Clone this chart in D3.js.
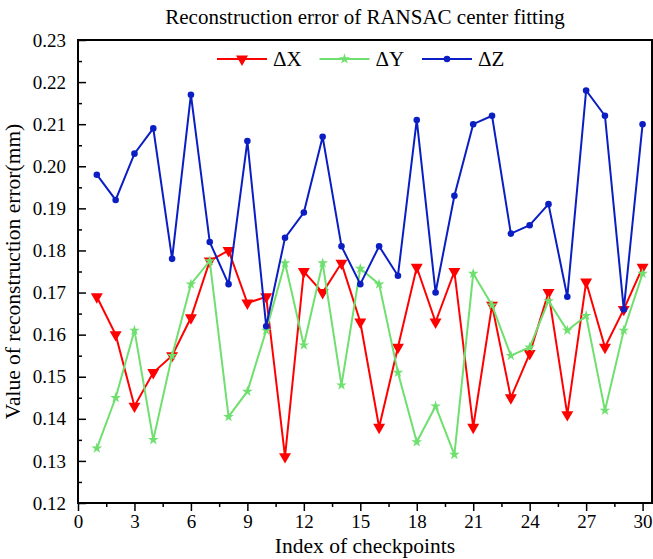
<!DOCTYPE html>
<html>
<head>
<meta charset="utf-8">
<script src="https://cdn.jsdelivr.net/npm/d3@7"></script>
<style>
  html, body { margin: 0; padding: 0; background: #fff; }
  svg { display: block; }
  svg text { font-family: "Liberation Serif", "Times New Roman", serif; fill: #000; }
</style>
</head>
<body>
<svg id="chart" width="653" height="559"></svg>
<script>
// Checkpoint indices 1..30
const checkpoints = d3.range(1, 31);

// Reconstruction error per axis (mm)
const errX = [0.169, 0.160, 0.143, 0.151, 0.155, 0.164, 0.1775, 0.180, 0.1675, 0.169,
              0.131, 0.175, 0.170, 0.177, 0.163, 0.138, 0.157, 0.176, 0.163, 0.175,
              0.138, 0.167, 0.145, 0.1555, 0.170, 0.141, 0.1725, 0.157, 0.166, 0.176];
const errY = [0.133, 0.145, 0.161, 0.135, 0.155, 0.172, 0.1775, 0.1405, 0.1465, 0.161,
              0.177, 0.1575, 0.177, 0.148, 0.1757, 0.172, 0.151, 0.1345, 0.143, 0.1315,
              0.1745, 0.167, 0.155, 0.157, 0.168, 0.161, 0.1645, 0.142, 0.161, 0.1745];
const errZ = [0.198, 0.192, 0.203, 0.209, 0.178, 0.217, 0.182, 0.172, 0.206, 0.162,
              0.183, 0.189, 0.207, 0.181, 0.172, 0.181, 0.174, 0.211, 0.170, 0.193,
              0.210, 0.212, 0.184, 0.186, 0.191, 0.169, 0.218, 0.212, 0.166, 0.210];

const seriesNames = ["\u0394X", "\u0394Y", "\u0394Z"];
const xTicks = d3.range(0, 31, 3);
const yTicks = [0.12, 0.13, 0.14, 0.15, 0.16, 0.17, 0.18, 0.19, 0.20, 0.21, 0.22, 0.23];

const svg = d3.select("#chart");
const m = { left: 78, right: 1, top: 40, bottom: 56 };
const W = 653, H = 559;

const x = d3.scaleLinear().domain([0, 30.5]).range([m.left, W - m.right]);
const y = d3.scaleLinear().domain([0.12, 0.23]).range([H - m.bottom, m.top]);

const styles = [
  { color: "#ff0000", symbol: d3.symbolTriangle, size: 62, rotate: 180 },
  { color: "#6fe06f", symbol: d3.symbolStar, size: 36, rotate: 0 },
  { color: "#0a1ec4", symbol: d3.symbolCircle, size: 34, rotate: 0 }
];
const data = [errX, errY, errZ];

// Title
svg.append("text")
  .attr("x", (x.range()[0] + x.range()[1]) / 2).attr("y", 24)
  .attr("text-anchor", "middle").attr("font-size", 21)
  .text("Reconstruction error of RANSAC center fitting");

// Axes
const fmtY = d3.format(".2f");
const yAxis = d3.axisLeft(y).tickValues(yTicks).tickFormat(fmtY).tickSize(-8).tickPadding(12);
svg.append("g").attr("transform", `translate(${m.left},0)`).call(yAxis);
const yMinor = d3.axisLeft(y).tickValues(d3.range(0.125, 0.23, 0.01)).tickFormat("").tickSize(-4);
svg.append("g").attr("transform", `translate(${m.left},0)`).call(yMinor);

const xAxis = d3.axisBottom(x).tickValues(xTicks).tickSize(8).tickPadding(4);
svg.append("g").attr("transform", `translate(0,${H - m.bottom})`).call(xAxis);
const xMinor = d3.axisBottom(x).tickValues(d3.range(1.5, 30, 3)).tickFormat("").tickSize(4);
svg.append("g").attr("transform", `translate(0,${H - m.bottom})`).call(xMinor);

svg.selectAll(".domain").remove();
svg.selectAll(".tick line").attr("stroke", "#000").attr("stroke-width", 1.5);
svg.selectAll(".tick text")
  .style("font-family", "'Liberation Serif', 'Times New Roman', serif")
  .style("font-size", "19px").attr("fill", "#000");

// Frame
svg.append("rect")
  .attr("x", x.range()[0]).attr("y", y.range()[1])
  .attr("width", x.range()[1] - x.range()[0]).attr("height", y.range()[0] - y.range()[1])
  .attr("fill", "none").attr("stroke", "#000").attr("stroke-width", 2);

// Axis titles
svg.append("text")
  .attr("x", (x.range()[0] + x.range()[1]) / 2).attr("y", 553)
  .attr("text-anchor", "middle").attr("font-size", 21.5)
  .text("Index of checkpoints");
svg.append("text")
  .attr("transform", `translate(20,${(y.range()[0] + y.range()[1]) / 2}) rotate(-90)`)
  .attr("text-anchor", "middle").attr("font-size", 21.5)
  .text("Value of reconstruction error(mm)");

// Series
const line = d3.line().x((d, i) => x(checkpoints[i])).y(d => y(d));
data.forEach((vals, k) => {
  const st = styles[k];
  const g = svg.append("g");
  g.append("path").datum(vals).attr("d", line)
    .attr("fill", "none").attr("stroke", st.color).attr("stroke-width", 2);
  g.selectAll("path.mk").data(vals).join("path").attr("class", "mk")
    .attr("d", d3.symbol().type(st.symbol).size(st.size))
    .attr("transform", (d, i) => `translate(${x(checkpoints[i])},${y(d)}) rotate(${st.rotate})`)
    .attr("fill", st.color);
});

// Legend
const legendY = 59;
const legendX0 = 217, legendStep = 102.5, segLen = 50;
seriesNames.forEach((name, k) => {
  const st = styles[k];
  const lx = legendX0 + k * legendStep;
  const g = svg.append("g");
  g.append("line").attr("x1", lx).attr("x2", lx + segLen)
    .attr("y1", legendY).attr("y2", legendY)
    .attr("stroke", st.color).attr("stroke-width", 2);
  g.append("path").attr("d", d3.symbol().type(st.symbol).size(st.size))
    .attr("transform", `translate(${lx + segLen / 2},${legendY}) rotate(${st.rotate})`)
    .attr("fill", st.color);
  g.append("text").attr("x", lx + segLen + 6).attr("y", legendY + 7)
    .attr("font-size", 21).text(name);
});
</script>
</body>
</html>
